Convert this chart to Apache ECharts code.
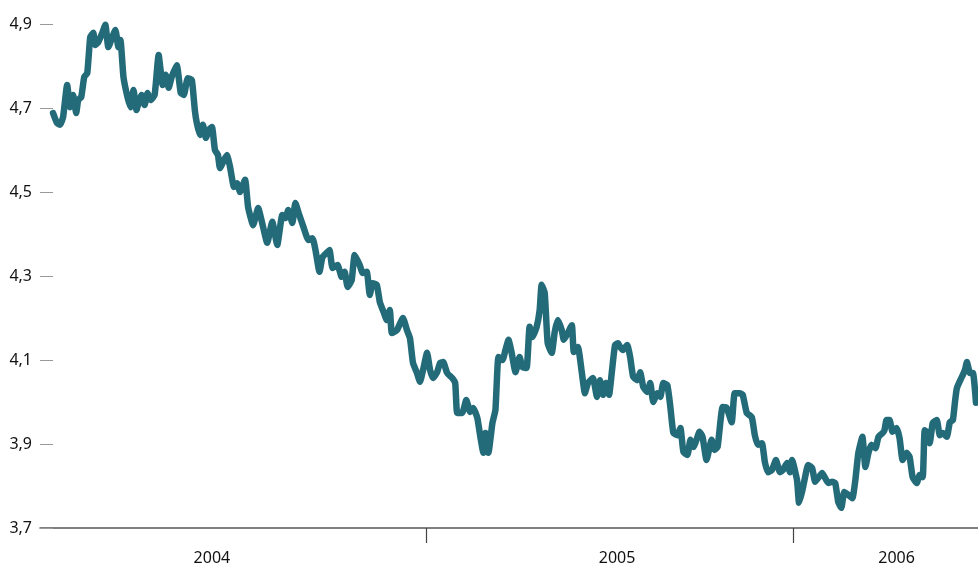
<!DOCTYPE html>
<html>
<head>
<meta charset="utf-8">
<script src="https://cdn.jsdelivr.net/npm/echarts@6/dist/echarts.min.js"></script>
<style>
html,body{margin:0;padding:0;background:#fff;}
#chart{width:978px;height:572px;}
</style>
</head>
<body>
<div id="chart"></div>
<script>
// Days since 2004-01-01
const days = [
-5,-1,2,5,9,12,15,18,20,23,26,29,32,35,37,40,44,47,50,54,57,60,62,65,69,72,75,
78,80,83,86,89,92,96,100,104,107,110,113,118,122,125,129,133,136,138,141,144,147,150,153,156,159,161,165,168,171,175,178,181,186,189,194,199,203,208,213,218,223,226,229,233,236,239,244,249,253,256,260,
263,268,270,273,278,282,285,288,292,295,300,303,307,310,313,317,320,323,327,330,332,337,343,347,350,353,357,360,363,367,370,373,377,380,383,387,392,395,397,402,406,410,413,417,420,423,425,428,432,435,438,442,445,448,
451,455,459,462,466,469,472,476,479,481,484,487,491,494,497,501,503,507,511,513,517,521,524,527,532,536,539,542,545,548,551,554,557,559,562,566,569,572,576,579,582,586,589,592,596,599,602,606,609,612,616,619,622,626,629,632,
635,638,641,645,650,653,656,661,665,670,673,678,681,685,690,693,696,700,703,706,710,714,718,721,725,728,730,735,737,740,743,746,750,753,756,760,763,766,770,773,776,779,782,786,790,793,796,800,803,806,809,813,816,820,
822,824,827,830,834,837,840,844,847,850,854,857,860,862,865,867,870,874,877,880,884,887,890,892,894,899,902,904,907,910,913
];
const rates = [
4.688,4.664,4.660,4.679,4.755,4.702,4.731,4.688,4.719,4.726,4.774,4.783,4.869,4.879,4.850,4.857,4.879,4.898,4.845,4.869,4.886,4.845,4.862,4.774,4.726,4.702,4.743,
4.695,4.712,4.731,4.707,4.736,4.719,4.731,4.826,4.755,4.779,4.748,4.774,4.802,4.736,4.731,4.771,4.767,4.695,4.664,4.636,4.660,4.629,4.648,4.655,4.600,4.588,4.557,4.576,4.588,4.560,4.512,4.521,4.500,4.529,4.464,4.421,4.462,4.426,4.379,4.429,4.374,4.445,4.438,4.457,4.426,4.474,4.452,4.417,4.386,4.390,4.362,4.310,
4.345,4.357,4.362,4.319,4.326,4.298,4.310,4.274,4.290,4.350,4.326,4.307,4.310,4.255,4.283,4.279,4.238,4.219,4.195,4.219,4.164,4.171,4.200,4.171,4.152,4.093,4.069,4.048,4.076,4.117,4.076,4.057,4.071,4.093,4.095,4.069,4.057,4.045,3.974,3.974,4.005,3.976,3.986,3.962,3.917,3.879,3.926,3.879,3.950,3.981,4.107,4.100,4.124,4.148,
4.119,4.071,4.107,4.083,4.081,4.179,4.155,4.179,4.219,4.279,4.260,4.140,4.117,4.167,4.195,4.171,4.148,4.164,4.183,4.119,4.131,4.069,4.021,4.045,4.057,4.012,4.052,4.017,4.045,4.017,4.076,4.136,4.140,4.131,4.124,4.136,4.107,4.060,4.052,4.071,4.036,4.024,4.045,4.000,4.021,4.012,4.045,4.040,3.988,3.926,3.921,3.938,3.881,3.874,3.910,3.893,
3.910,3.929,3.917,3.862,3.910,3.886,3.893,3.988,3.986,3.952,4.021,4.021,4.017,3.974,3.964,3.921,3.898,3.902,3.857,3.833,3.838,3.862,3.833,3.838,3.855,3.833,3.862,3.814,3.760,3.786,3.821,3.850,3.843,3.810,3.819,3.831,3.819,3.807,3.810,3.807,3.762,3.748,3.786,3.779,3.771,3.814,3.879,3.917,3.845,3.879,3.898,3.890,3.917,3.926,
3.933,3.957,3.957,3.929,3.938,3.914,3.862,3.879,3.869,3.821,3.807,3.826,3.821,3.933,3.926,3.902,3.950,3.957,3.921,3.926,3.917,3.952,3.957,3.998,4.033,4.060,4.076,4.095,4.069,4.069,3.998
];
const yearTickDays = [366, 731];
const yearLabels = ['2004', '2005', '2006'];
const yearLabelDays = [153, 556, 834];
const yTicks = [3.7, 3.9, 4.1, 4.3, 4.5, 4.7, 4.9];

const seriesData = days.map((d, i) => [d, rates[i]]);

const chart = echarts.init(document.getElementById('chart'), null, {renderer: 'canvas'});
chart.setOption({
  animation: false,
  backgroundColor: '#ffffff',
  grid: {left: 40, right: 0, top: 24, bottom: 44, containLabel: false},
  xAxis: {
    type: 'value',
    min: -18,
    max: 915,
    axisLine: {show: true, onZero: false, lineStyle: {color: '#555', width: 1.5}},
    axisTick: {show: true, length: 15, customValues: yearTickDays, lineStyle: {color: '#444', width: 1.2}},
    axisLabel: {
      show: true,
      customValues: yearLabelDays,
      margin: 22,
      color: '#111',
      fontSize: 16,
      fontFamily: 'Noto Sans',
      formatter: function (v) {
        const idx = yearLabelDays.indexOf(v);
        return idx >= 0 ? yearLabels[idx] : '';
      }
    },
    splitLine: {show: false}
  },
  yAxis: {
    type: 'value',
    min: 3.7,
    max: 4.9,
    interval: 0.2,
    axisLine: {show: false, onZero: false},
    axisTick: {show: true, inside: true, length: 13, lineStyle: {color: '#999', width: 1}},
    axisLabel: {
      show: true,
      customValues: yTicks,
      margin: 8,
      color: '#111',
      fontSize: 16,
      fontFamily: 'Noto Sans',
      formatter: function (v) { return v.toFixed(1).replace('.', ','); }
    },
    splitLine: {show: false}
  },
  series: [{
    type: 'line',
    data: seriesData,
    showSymbol: false,
    symbol: 'none',
    smooth: 0.15,
    lineStyle: {color: '#246b7a', width: 6.5, cap: 'round', join: 'round'},
    z: 3
  }]
});
</script>
</body>
</html>
